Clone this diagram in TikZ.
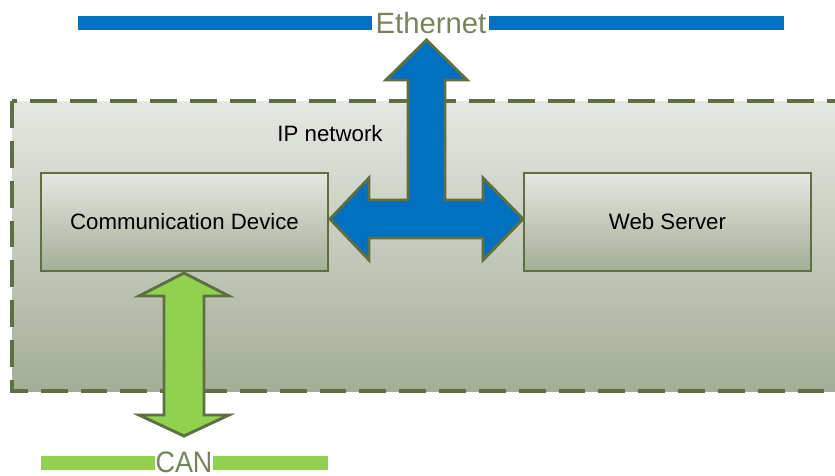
\documentclass[tikz,border=0pt]{standalone}
\usepackage{fontspec}
\setmainfont{Liberation Sans}
\usetikzlibrary{shadings}
\definecolor{olive}{HTML}{5E6F43}
\definecolor{ethtext}{HTML}{75875A}
\definecolor{shadetop}{HTML}{E5E7E2}
\definecolor{shadebot}{HTML}{A4AE96}
\definecolor{netblue}{HTML}{0070C0}
\definecolor{cangreen}{HTML}{92D050}
\tikzset{
  devbox/.style={draw=olive, line width=2.5pt, top color=shadetop, bottom color=shadebot,
    minimum width=8.61cm, minimum height=2.94cm, font=\fontsize{19}{22}\selectfont},
  blockarrow/.style={draw=olive, line width=2.5pt, line join=miter},
  busbar/.style={fill=#1},
  buslabel/.style={text=ethtext, anchor=base, inner sep=0pt, font=\fontsize{25}{28}\selectfont}
}
\begin{document}
\begin{tikzpicture}[x=0.03cm, y=-0.03cm]
        \useasboundingbox (0,0) rectangle (835,476);
        \clip (0,0) rectangle (835,476);
        % IP network area
        \draw [olive, line width=3pt, dash pattern=on 23pt off 11pt, top color=shadetop, bottom color=shadebot]
          (12,101) rectangle (860,391);
        \node (ipnet) at (330,134) {\fontsize{19}{22}\selectfont IP network};
        \node [devbox] (comm) at (184.5,222) {Communication Device};
        \node [devbox] (web) at (667.5,222) {Web Server};
        % Ethernet bus
        \fill [busbar=netblue] (78,16) rectangle (372,30);
        \fill [busbar=netblue] (489,16) rectangle (784,30);
        \node [buslabel] (eth) at (431,33) {Ethernet};
        \draw [blockarrow, fill=netblue] (426.5,40) -- (467,80) -- (445,80) -- (445,200) -- (483,200)
          -- (483,178) -- (523,219) -- (483,260) -- (483,238) -- (369,238) -- (369,260)
          -- (330,219) -- (369,178) -- (369,200) -- (408,200) -- (408,80) -- (386,80) -- cycle;
        % CAN bus
        \fill [busbar=cangreen] (41,456) rectangle (155,470);
        \fill [busbar=cangreen] (213,456) rectangle (328,470);
        \node [buslabel, font=\fontsize{23}{26}\selectfont] (can) at (184,472) {\scalebox{1}[1.1]{CAN}};
        \draw [blockarrow, fill=cangreen] (184,273) -- (229,296) -- (204,296) -- (204,415) -- (229,415)
          -- (184,436) -- (139,415) -- (164,415) -- (164,296) -- (139,296) -- cycle;
\end{tikzpicture}
\end{document}
